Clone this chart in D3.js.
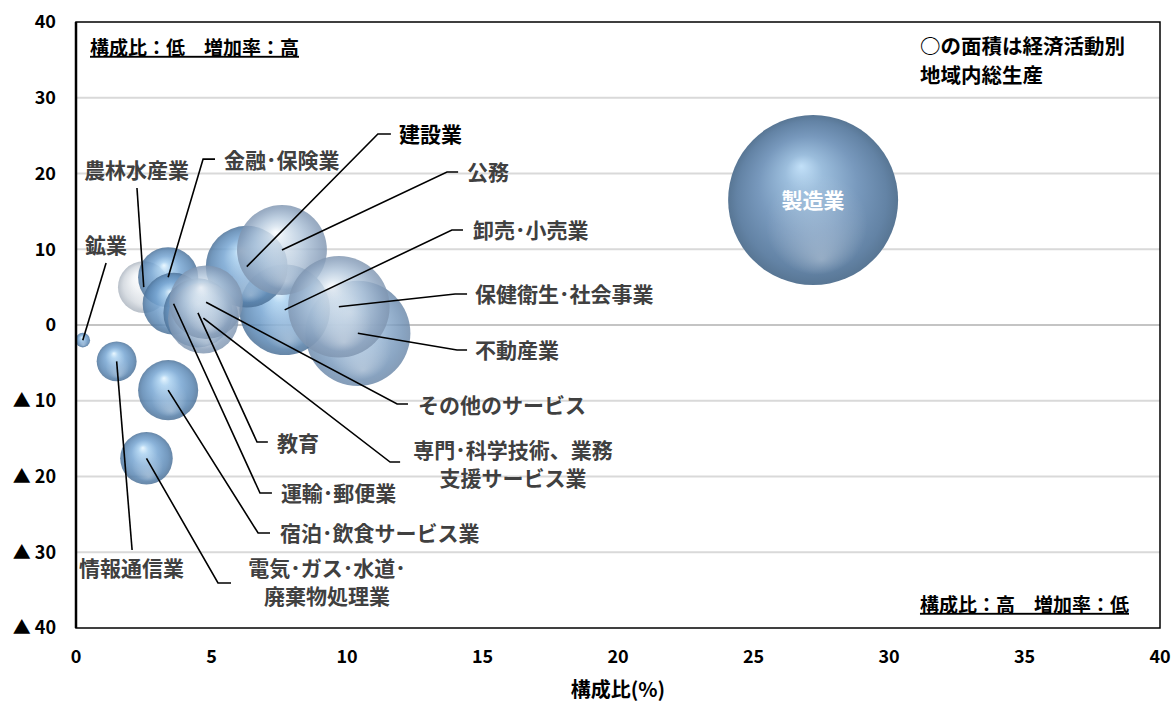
<!DOCTYPE html>
<html><head><meta charset="utf-8">
<script src="https://cdn.jsdelivr.net/npm/d3@7"></script>
<style>
html,body{margin:0;padding:0;background:#fff;}
svg text{font-family:"Noto Sans CJK JP","Noto Sans",sans-serif;font-weight:bold;}
</style></head>
<body><svg id="c" width="1174" height="704"></svg>
<script>
// ---- data ----
const categories = ["不動産業","卸売･小売業","建設業","農林水産業","金融･保険業","運輸･郵便業","教育","専門･科学技術、業務支援サービス業","その他のサービス","公務","保健衛生･社会事業","鉱業","情報通信業","宿泊･飲食サービス業","電気･ガス･水道･廃棄物処理業","製造業"];
const shares   = [10.4, 7.7, 6.3, 2.5, 3.4, 3.6, 4.5, 4.7, 4.8, 7.6, 9.7, 0.25, 1.5, 3.4, 2.6, 27.2];   // 構成比(%)
const growth   = [-1.1, 2.0, 7.7, 5.0, 6.3, 2.8, 1.6, 0.9, 3.0, 9.9, 2.4, -2.0, -4.8, -8.6, -17.6, 16.5]; // 増加率(%)
const gdpSize  = [10.4, 7.7, 6.3, 2.5, 3.4, 3.6, 4.5, 4.7, 5.1, 7.6, 9.7, 0.2, 1.5, 3.4, 2.6, 27.2];   // bubble area
const xTicks = [0,5,10,15,20,25,30,35,40];
const yTicks = [40,30,20,10,0,-10,-20,-30,-40];
const yTickLabels = ["40","30","20","10","0","▲ 10","▲ 20","▲ 30","▲ 40"];

// ---- styles / layout (separate from data) ----
const tones = ["mid","blue","blue","white","blue","blue","blue","light","light","light","light","blue","blue","blue","blue","mfg"];
// label layout in data units: text pos (tx,ty), elbow (ex,ey), hook end hx (null = no hook), anchor
const labelLayout = {
 "鉱業":{lines:["鉱業"],tx:0.33,ty:10.56,ex:1.11,ey:8.18,hx:null,a:"start"},
 "農林水産業":{lines:["農林水産業"],tx:0.30,ty:20.46,ex:2.25,ey:18.09,hx:null,a:"start"},
 "金融･保険業":{lines:["金融･保険業"],tx:5.46,ty:21.7,ex:4.69,ey:21.9,hx:5.13,a:"start"},
 "建設業":{lines:["建設業"],tx:11.92,ty:25.1,ex:11.14,ey:25.21,hx:11.62,a:"start",dark:true},
 "公務":{lines:["公務"],tx:14.43,ty:20.1,ex:13.69,ey:20.2,hx:14.10,a:"start"},
 "卸売･小売業":{lines:["卸売･小売業"],tx:14.65,ty:12.45,ex:13.87,ey:12.54,hx:14.28,a:"start"},
 "保健衛生･社会事業":{lines:["保健衛生･社会事業"],tx:14.72,ty:4.0,ex:13.99,ey:4.09,hx:14.43,a:"start"},
 "不動産業":{lines:["不動産業"],tx:14.72,ty:-3.4,ex:14.06,ey:-3.3,hx:14.43,a:"start"},
 "その他のサービス":{lines:["その他のサービス"],tx:12.62,ty:-10.6,ex:11.85,ey:-10.43,hx:12.25,a:"start"},
 "専門･科学技術、業務支援サービス業":{lines:["専門･科学技術、業務","支援サービス業"],tx:16.13,ty:-16.5,ex:11.59,ey:-18.09,hx:11.96,a:"middle"},
 "教育":{lines:["教育"],tx:7.42,ty:-15.58,ex:6.68,ey:-15.45,hx:7.08,a:"start"},
 "運輸･郵便業":{lines:["運輸･郵便業"],tx:7.56,ty:-22.18,ex:6.79,ey:-22.18,hx:7.23,a:"start"},
 "宿泊･飲食サービス業":{lines:["宿泊･飲食サービス業"],tx:7.53,ty:-27.46,ex:6.72,ey:-27.46,hx:7.16,a:"start"},
 "情報通信業":{lines:["情報通信業"],tx:0.11,ty:-32.1,ex:2.07,ey:-29.7,hx:null,a:"start"},
 "電気･ガス･水道･廃棄物処理業":{lines:["電気･ガス･水道･","廃棄物処理業"],tx:9.26,ty:-32.2,ex:5.24,ey:-34.06,hx:5.72,a:"middle"}
};

const svg = d3.select("#c");
const L=76,R=1160,T=22,B=628;
const x = d3.scaleLinear().domain([0,40]).range([L,R]);
const y = d3.scaleLinear().domain([-40,40]).range([B,T]);
const r = d3.scaleSqrt().domain([0,27.2]).range([0,85]);

// gradients
const defs = svg.append("defs");
const grads = {
 blue:[[0,"#e6f6ff"],[0.18,"#a8d0f0"],[0.5,"#76a5d2"],[0.85,"#5a86b2"],[1,"#4d7298"]],
 mid:[[0,"#eef6fd"],[0.2,"#b6d0e8"],[0.55,"#8cadcf"],[0.88,"#6f90b4"],[1,"#6a87a8"]],
 light:[[0,"#fbfdff"],[0.2,"#d9e5f0"],[0.55,"#aec3d9"],[0.88,"#889fbb"],[1,"#7f95b0"]],
 white:[[0,"#ffffff"],[0.35,"#eef1f4"],[0.75,"#cfd5dc"],[1,"#aab3be"]],
 mfg:[[0,"#c2e0f8"],[0.22,"#9bbddc"],[0.58,"#7899bd"],[0.88,"#6383a5"],[1,"#587694"]]
};
Object.entries(grads).forEach(([k,stops])=>{
  const g = defs.append("radialGradient").attr("id","g-"+k)
    .attr("cx","50%").attr("cy","50%").attr("r","50%").attr("fx","43%").attr("fy","30%");
  stops.forEach(s=>g.append("stop").attr("offset",s[0]).attr("stop-color",s[1]));
});
const glow = defs.append("radialGradient").attr("id","glow").attr("cx","50%").attr("cy","50%").attr("r","50%").attr("fx","55%").attr("fy","85%");
glow.append("stop").attr("offset",0).attr("stop-color","#ffffff").attr("stop-opacity",0.3);
glow.append("stop").attr("offset",0.6).attr("stop-color","#ffffff").attr("stop-opacity",0.0);
glow.append("stop").attr("offset",1).attr("stop-color","#ffffff").attr("stop-opacity",0.0);

// gridlines
svg.append("g").selectAll("line").data(yTicks.filter(v=>v!==40&&v!==-40)).join("line")
  .attr("x1",L).attr("x2",R).attr("y1",d=>y(d)).attr("y2",d=>y(d))
  .attr("stroke",d=>d===0?"#c4c4c4":"#d9d9d9").attr("stroke-width",2);

// bubbles
const data = categories.map((c,i)=>({name:c,x:shares[i],y:growth[i],s:gdpSize[i],tone:tones[i]}));
const bg = svg.append("g");
data.forEach(d=>{
  const op = d.tone==="mfg"?1:(d.tone==="blue"?0.85:0.82);
  bg.append("circle").attr("cx",x(d.x)).attr("cy",y(d.y)).attr("r",r(d.s))
    .attr("fill","url(#g-"+d.tone+")").attr("fill-opacity",op);
  bg.append("circle").attr("cx",x(d.x)).attr("cy",y(d.y)).attr("r",r(d.s))
    .attr("fill","url(#glow)");
});

// plot frame
svg.append("rect").attr("x",L).attr("y",T).attr("width",R-L).attr("height",B-T)
  .attr("fill","none").attr("stroke","#000").attr("stroke-width",1.5);
svg.append("line").attr("x1",L).attr("x2",L).attr("y1",T).attr("y2",B).attr("stroke","#000").attr("stroke-width",2.5);

// leader lines and labels
const lg = svg.append("g");
data.forEach(d=>{
  const lay = labelLayout[d.name];
  if(!lay) return;
  const pts = [[x(d.x),y(d.y)],[x(lay.ex),y(lay.ey)]];
  if(lay.hx!==null) pts.push([x(lay.hx),y(lay.ey)]);
  lg.append("path").attr("d",d3.line()(pts)).attr("fill","none").attr("stroke","#000").attr("stroke-width",1.6);
  lay.lines.forEach((ln,k)=>{
    lg.append("text").attr("x",x(lay.tx)).attr("y",y(lay.ty)+k*28).attr("dy","0.36em").attr("text-anchor",lay.a)
      .attr("font-size",21).attr("fill",lay.dark?"#000":"#404040").text(ln);
  });
});
// 製造業 label inside bubble
const mfg = data.find(d=>d.name==="製造業");
svg.append("text").attr("x",x(mfg.x)).attr("y",y(mfg.y)).attr("dy","0.36em").attr("text-anchor","middle")
  .attr("font-size",21).attr("fill","#fff").text(mfg.name);

// axes tick labels
svg.append("g").selectAll("text").data(xTicks).join("text")
  .attr("x",d=>x(d)).attr("y",657).attr("dy","0.36em").attr("text-anchor","middle").attr("font-size",18).attr("fill","#000").text(d=>d);
svg.append("g").selectAll("text").data(yTicks).join("text")
  .attr("x",56).attr("y",d=>y(d)).attr("dy","0.36em").attr("text-anchor","end").attr("font-size",18).attr("fill","#000")
  .text((d,i)=>yTickLabels[i]);
svg.append("text").attr("x",(L+R)/2).attr("y",690).attr("dy","0.36em").attr("text-anchor","middle")
  .attr("font-size",20).attr("fill","#000").text("構成比(%)");

// quadrant notes
svg.append("text").attr("x",90).attr("y",48).attr("dy","0.36em").attr("font-size",19).attr("fill","#000")
  .style("text-decoration","underline").text("構成比：低　増加率：高");
svg.append("text").attr("x",1129).attr("y",605).attr("dy","0.36em").attr("text-anchor","end").attr("font-size",19).attr("fill","#000")
  .style("text-decoration","underline").text("構成比：高　増加率：低");
svg.append("text").attr("x",920).attr("y",47).attr("dy","0.36em").attr("font-size",20.5).attr("fill","#000").text("○の面積は経済活動別");
svg.append("text").attr("x",920).attr("y",76).attr("dy","0.36em").attr("font-size",20.5).attr("fill","#000").text("地域内総生産");
</script></body></html>
